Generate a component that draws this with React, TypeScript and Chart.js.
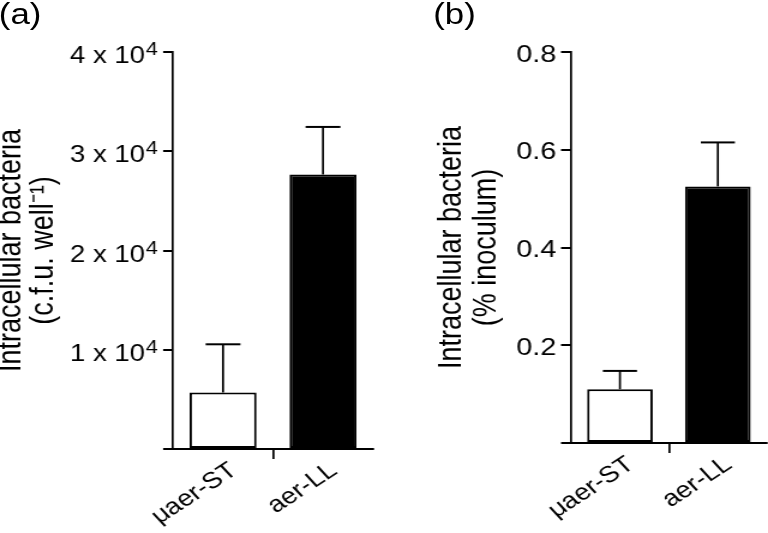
import React, { useEffect, useRef } from 'react';
import { Chart, registerables } from 'chart.js';

Chart.register(...registerables);

// ---- data ----
const categories = ['μaer-ST', 'aer-LL'];
const cfuMeans = [5700, 27650];
const cfuErrors = [4850, 4800];
const inoculumMeans = [0.11, 0.525];
const inoculumErrors = [0.0375, 0.09];
const barFills = ['#ffffff', '#000000'];

const cfuMax = 40000;
const cfuStep = 10000;
const cfuExponent = 4;
const inoculumMax = 0.8;
const inoculumStep = 0.2;

const cfuTitle = ['Intracellular bacteria', '(c.f.u. well⁻¹)'];
const inoculumTitle = ['Intracellular bacteria', '(% inoculum)'];
const panelLabels = ['(a)', '(b)'];

// ---- style ----
const FONT = '"Liberation Sans", Arial, Helvetica, sans-serif';
const SX = 1.2; // horizontal stretch of the original figure

function makeErrorBarPlugin(errors: number[], capRatio: number) {
  return {
    id: 'errorBars',
    afterDatasetsDraw(chart: any) {
      const meta = chart.getDatasetMeta(0);
      const yScale = chart.scales.y;
      const values = chart.data.datasets[0].data as number[];
      const ctx = chart.ctx as CanvasRenderingContext2D;
      ctx.save();
      ctx.strokeStyle = '#000';
      meta.data.forEach((bar: any, i: number) => {
        const top = yScale.getPixelForValue(values[i] + errors[i]);
        const half = (bar.width * capRatio) / 2;
        ctx.lineWidth = 1.7;
        ctx.beginPath();
        ctx.moveTo(bar.x, bar.y);
        ctx.lineTo(bar.x, top);
        ctx.stroke();
        ctx.lineWidth = 2;
        ctx.beginPath();
        ctx.moveTo(bar.x - half, top);
        ctx.lineTo(bar.x + half, top);
        ctx.stroke();
      });
      ctx.restore();
    },
  };
}

function makeSciTickPlugin(unit: number, exponent: number, tickLength: number, pad: number) {
  return {
    id: 'sciTicks',
    afterDraw(chart: any) {
      const s = chart.scales.y;
      const ctx = chart.ctx as CanvasRenderingContext2D;
      ctx.save();
      ctx.fillStyle = '#000';
      ctx.textAlign = 'left';
      ctx.textBaseline = 'alphabetic';
      s.ticks.forEach((t: any) => {
        if (t.value === 0) return;
        const y = s.getPixelForValue(t.value);
        const base = `${Math.round(t.value / unit)} x 10`;
        const sup = String(exponent);
        ctx.font = `23px ${FONT}`;
        const wb = ctx.measureText(base).width;
        ctx.font = `18px ${FONT}`;
        const ws = ctx.measureText(sup).width;
        const right = s.right - tickLength - pad;
        const x0 = right - wb - ws;
        ctx.font = `23px ${FONT}`;
        ctx.fillText(base, x0, y + 11);
        ctx.font = `18px ${FONT}`;
        ctx.fillText(sup, x0 + wb + 0.5, y + 3);
      });
      ctx.restore();
    },
  };
}

const midTickColor = (ctx: any) => (ctx.index === 1 ? '#000' : 'rgba(0,0,0,0)');

function xScale(height: number) {
  return {
    type: 'category',
    offset: true,
    grid: {
      display: true,
      offset: true,
      drawOnChartArea: false,
      drawTicks: true,
      tickLength: 10,
      lineWidth: 1.7,
      color: midTickColor,
    },
    border: { display: true, color: '#000', width: 2 },
    ticks: {
      font: { family: FONT, size: 23 },
      color: '#000',
      maxRotation: 38,
      minRotation: 38,
      padding: -2,
      labelOffset: 9,
      autoSkip: false,
    },
    afterFit: (s: any) => {
      s.height = height;
    },
  };
}

function dataset(values: number[]) {
  return {
    data: values,
    backgroundColor: barFills,
    borderColor: '#000',
    borderWidth: 2,
    borderSkipped: false,
    barPercentage: 0.67,
    categoryPercentage: 1,
  };
}

function PanelA() {
  const ref = useRef<HTMLCanvasElement | null>(null);
  useEffect(() => {
    if (!ref.current) return;
    const chart = new Chart(ref.current, {
      type: 'bar',
      data: { labels: categories, datasets: [dataset(cfuMeans) as any] },
      options: {
        animation: false,
        responsive: true,
        maintainAspectRatio: false,
        layout: { padding: { left: 0, top: 52, right: 9.2, bottom: 0 } },
        plugins: { legend: { display: false }, tooltip: { enabled: false } },
        scales: {
          x: xScale(84) as any,
          y: {
            min: 0,
            max: cfuMax,
            ticks: { stepSize: cfuStep, display: false },
            grid: { drawOnChartArea: false, drawTicks: true, tickLength: 8.3, lineWidth: 2, color: '#000' },
            border: { display: true, color: '#000', width: 1.7 },
            title: {
              display: true,
              text: cfuTitle,
              color: '#000',
              font: { family: FONT, size: 27, lineHeight: 1.0 },
              padding: { top: -3.5, bottom: 0 },
            },
            afterFit: (s: any) => {
              s.width = 144.2;
            },
          } as any,
        },
      },
      plugins: [makeErrorBarPlugin(cfuErrors, 0.52), makeSciTickPlugin(cfuStep, cfuExponent, 8.3, 5)],
    });
    return () => chart.destroy();
  }, []);
  return <canvas ref={ref} style={{ display: 'block' }} />;
}

function PanelB() {
  const ref = useRef<HTMLCanvasElement | null>(null);
  useEffect(() => {
    if (!ref.current) return;
    const chart = new Chart(ref.current, {
      type: 'bar',
      data: { labels: categories, datasets: [dataset(inoculumMeans) as any] },
      options: {
        animation: false,
        responsive: true,
        maintainAspectRatio: false,
        layout: { padding: { left: 0, top: 52, right: 1, bottom: 0 } },
        plugins: { legend: { display: false }, tooltip: { enabled: false } },
        scales: {
          x: xScale(90) as any,
          y: {
            min: 0,
            max: inoculumMax,
            ticks: {
              stepSize: inoculumStep,
              font: { family: FONT, size: 24 },
              color: '#000',
              padding: 4,
              labelOffset: 3,
              callback: (v: any) => (Number(v) === 0 ? '' : Number(v).toFixed(1)),
            },
            grid: { drawOnChartArea: false, drawTicks: true, tickLength: 8.3, lineWidth: 2, color: '#000' },
            border: { display: true, color: '#000', width: 1.7 },
            title: {
              display: true,
              text: inoculumTitle,
              color: '#000',
              font: { family: FONT, size: 27, lineHeight: 1.075 },
              padding: { top: 42, bottom: 0 },
            },
            afterFit: (s: any) => {
              s.width = 155.8;
            },
          } as any,
        },
      },
      plugins: [makeErrorBarPlugin(inoculumErrors, 0.52)],
    });
    return () => chart.destroy();
  }, []);
  return <canvas ref={ref} style={{ display: 'block' }} />;
}

const panelStyle = (left: number): React.CSSProperties => ({
  position: 'absolute',
  left,
  top: 0,
  width: 320,
  height: 533,
  transform: `scaleX(${SX})`,
  transformOrigin: '0 0',
});

const labelStyle = (left: number): React.CSSProperties => ({
  position: 'absolute',
  left,
  top: 0,
  fontFamily: FONT,
  fontSize: 29,
  lineHeight: '29px',
  color: '#000',
  zIndex: 2,
});

export default function App() {
  return (
    <div style={{ position: 'fixed', left: 0, top: 0, width: 768, height: 533, background: '#fff', overflow: 'hidden' }}>
      <div style={panelStyle(0)}>
        <PanelA />
        <div style={labelStyle(-1)}>{panelLabels[0]}</div>
      </div>
      <div style={panelStyle(384)}>
        <PanelB />
        <div style={labelStyle(41)}>{panelLabels[1]}</div>
      </div>
    </div>
  );
}
